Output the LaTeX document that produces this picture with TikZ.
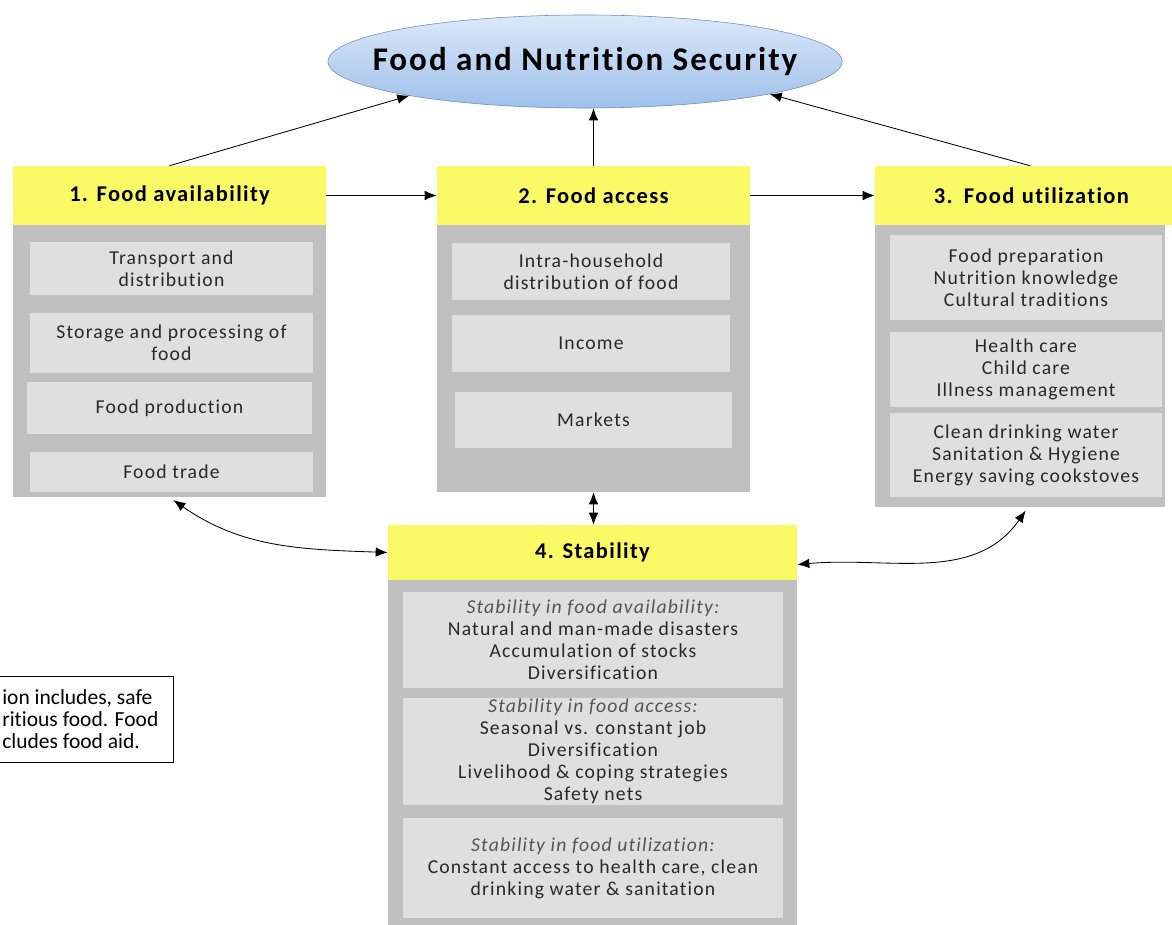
\documentclass[tikz,border=0pt]{standalone}
\usepackage{fontspec}
\setmainfont{Carlito}[Ligatures=NoCommon]
\newfontfamily\boxfont[LetterSpace=6,Ligatures=NoCommon]{Carlito}
\usetikzlibrary{shapes.geometric,arrows.meta}
\definecolor{hdyellow}{RGB}{250,250,102}
\definecolor{bodygray}{RGB}{192,192,192}
\definecolor{itemgray}{RGB}{223,223,223}
\definecolor{txtgray}{RGB}{40,40,40}
\definecolor{itgray}{RGB}{85,85,85}
\definecolor{ellborder}{RGB}{110,140,185}
\definecolor{elltop}{RGB}{220,232,248}
\definecolor{ellbot}{RGB}{158,192,235}
\begin{document}
\begin{tikzpicture}[x=0.025cm,y=-0.025cm,
	head/.style={fill=hdyellow,inner sep=0pt,text=black,font=\boxfont\fontsize{16}{19}\selectfont\bfseries,minimum height=1.475cm},
	body/.style={fill=bodygray,inner sep=0pt},
	item/.style={fill=itemgray,inner sep=0pt,align=center,text=txtgray,font=\boxfont\fontsize{14}{15.6}\selectfont},
	link/.style={-{Latex[length=3mm,width=2.4mm]},semithick},
	twoway/.style={{Latex[length=3mm,width=2.4mm]}-{Latex[length=3mm,width=2.4mm]},semithick}]
		\useasboundingbox (0,0) rectangle (1172,925);
		% goal
		\node [ellipse,draw=ellborder,top color=elltop,bottom color=ellbot,minimum width=12.85cm,minimum height=2.325cm,inner sep=0pt,font=\boxfont\fontsize{23.5}{28}\selectfont\bfseries] (fns) at (585,61.5) {\makebox[0pt]{Food and Nutrition Security}};
		% 1. availability
		\node [body,minimum width=7.825cm,minimum height=6.8cm] (b1) at (169.5,361) {};
		\node [head,minimum width=7.825cm] (h1) at (169.5,195.5) {1. Food availability};
		\node [item,minimum width=7.075cm,minimum height=1.325cm] (t11) at (171.5,268.5) {Transport and\\distribution};
		\node [item,minimum width=7.075cm,minimum height=1.5cm] (t12) at (171.5,343) {Storage and processing of\\food};
		\node [item,minimum width=7.125cm,minimum height=1.3cm] (t13) at (169.5,408) {Food production};
		\node [item,minimum width=7.075cm,minimum height=1cm] (t14) at (171.5,472) {Food trade};
		% 2. access
		\node [body,minimum width=7.825cm,minimum height=6.675cm] (b2) at (593.5,358.5) {};
		\node [head,minimum width=7.825cm] (h2) at (593.5,195.5) {2. Food access};
		\node [item,minimum width=6.95cm,minimum height=1.425cm] (t21) at (591,271.5) {Intra-household\\distribution of food};
		\node [item,minimum width=6.95cm,minimum height=1.425cm] (t22) at (591,343.5) {Income};
		\node [item,minimum width=6.925cm,minimum height=1.4cm] (t23) at (593.5,420) {Markets};
		% 3. utilization
		\node [body,minimum width=7.25cm,minimum height=7.05cm] (b3) at (1020,366) {};
		\node [head,minimum width=7.75cm,text width=7.4cm,align=left] (h3) at (1030,195.5) {\hspace*{1.3cm}3. Food utilization};
		\node [item,minimum width=6.8cm,minimum height=2.125cm] (t31) at (1026,277.5) {Food preparation\\Nutrition knowledge\\Cultural traditions};
		\node [item,minimum width=6.8cm,minimum height=1.875cm] (t32) at (1026,369.5) {Health care\\Child care\\Illness management};
		\node [item,minimum width=6.8cm,minimum height=2.1cm] (t33) at (1026,455) {Clean drinking water\\Sanitation \& Hygiene\\Energy saving cookstoves};
		% 4. stability
		\node [body,minimum width=10.225cm,minimum height=8.75cm] (b4) at (592.5,755) {};
		\node [head,minimum width=10.225cm,minimum height=1.375cm] (h4) at (592.5,552.5) {4. Stability};
		\node [item,minimum width=9.5cm,minimum height=2.4cm] (t41) at (593,640) {{\color{itgray}\itshape Stability in food availability:}\\Natural and man-made disasters\\Accumulation of stocks\\Diversification};
		\node [item,minimum width=9.5cm,minimum height=2.675cm] (t42) at (593,751.5) {{\color{itgray}\itshape Stability in food access:}\\Seasonal vs. constant job\\Diversification\\Livelihood \& coping strategies\\Safety nets};
		\node [item,minimum width=9.5cm,minimum height=2.5cm] (t43) at (593,868) {{\color{itgray}\itshape Stability in food utilization:}\\Constant access to health care, clean\\drinking water \& sanitation};
		% note, cut by the left edge
		\draw [semithick] (-10,676) rectangle (173,762);
		\node [anchor=west,align=left,inner sep=0pt,font=\fontsize{15.3}{15.4}\selectfont] (note) at (2,719) {ion includes, safe\\ritious food. Food\\cludes food aid.};
		% links
		\draw [link] (h1.north) -- (fns.191);
		\draw [link] (h2.north) -- (h2.north |- fns.south);
		\draw [link] (h3.north) -- (fns.-10);
		\draw [link] (h1.east) -- (h2.west);
		\draw [link] (h2.east) -- (h3.west);
		\draw [twoway] (b2.south) -- (b2.south |- h4.north);
		\draw [twoway,shorten <=1.2mm] (b1.south) to[out=-35,in=178] (h4.west);
		\draw [twoway,shorten >=1mm] ([yshift=-0.3cm]h4.east) to[out=5,in=-125] ([xshift=0.2cm]b3.south);
\end{tikzpicture}
\end{document}
